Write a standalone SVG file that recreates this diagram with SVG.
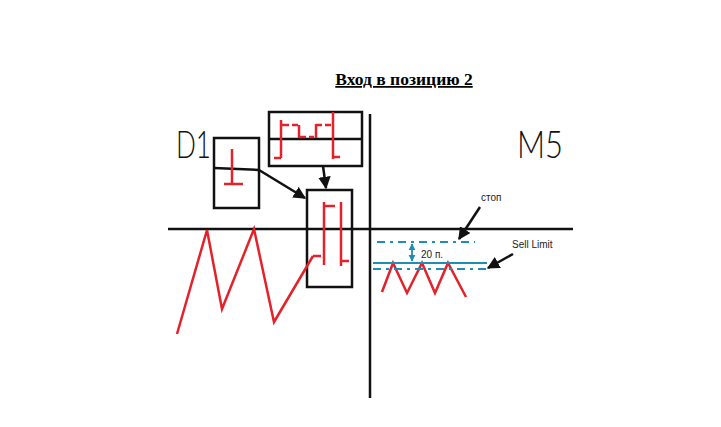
<svg xmlns="http://www.w3.org/2000/svg" width="721" height="427" viewBox="0 0 721 427">
<defs>
<marker id="ab" viewBox="0 0 10 10" refX="9" refY="5" markerWidth="5" markerHeight="5" orient="auto-start-reverse"><path d="M0,0 L10,5 L0,10 z" fill="#111"/></marker>
<marker id="at" viewBox="0 0 10 10" refX="9" refY="5" markerWidth="4" markerHeight="4" orient="auto-start-reverse"><path d="M0,0 L10,5 L0,10 z" fill="#1f8db4"/></marker>
</defs>
<style>
.k{fill:none;stroke:#111;stroke-width:2.5}
.r{fill:none;stroke:#e3222b;stroke-width:2.5;stroke-linejoin:miter}
.t{fill:none;stroke:#1f8db4;stroke-width:2.2}
.d{fill:none;stroke:#1f8db4;stroke-width:2;stroke-dasharray:8,5,3,5}
.hand{font-family:Lato,"Open Sans","Liberation Sans",Arial,sans-serif;font-weight:300;fill:#111}
.lbl{font-family:"Liberation Sans",Arial,sans-serif;fill:#222;font-size:10px}
</style>
<rect width="721" height="427" fill="#fff"/>
<text x="404" y="85" text-anchor="middle" font-family="Liberation Serif,Times New Roman,serif" font-weight="bold" font-size="17.5" text-decoration="underline" fill="#000">Вход в позицию 2</text>

<g id="axes">
<line class="k" x1="370" y1="114" x2="370" y2="398"/>
<line class="k" x1="168" y1="229" x2="573" y2="229"/>
</g>

<g id="label-d1"><text class="hand" x="176" y="158" font-size="38" textLength="35" lengthAdjust="spacingAndGlyphs">D1</text></g>
<g id="label-m5"><text class="hand" x="517" y="158" font-size="38" textLength="46" lengthAdjust="spacingAndGlyphs">M5</text></g>

<g id="box-d1">
<rect class="k" x="214" y="138" width="45" height="70"/>
<line class="k" x1="214" y1="168" x2="259" y2="170"/>
<path class="r" d="M232,149 V184 M224,184 H243"/>
</g>

<g id="box-top">
<rect class="k" x="269" y="112" width="93" height="54"/>
<line class="k" x1="269" y1="139" x2="362" y2="139"/>
<path class="r" d="M281,120 V158 M274,158 H281 M281,125 H289 M292,125 H298 M299,125 V138 M299,137 H306 M309,137 H314 M316,124 V138 M316,125 H322 M325,125 H331 M333,112 V159 M333,157 H340"/>
</g>

<g id="box-main">
<rect class="k" x="307" y="190" width="45" height="97"/>
<path class="r" d="M324,202 V265 M324,206 H335 M313,256 H321 M341,202 V266 M341,261 H349"/>
</g>

<g id="price-d1">
<polyline class="r" points="177,334 207,230 222,309 254,229 274,322 313,256"/>
</g>

<g id="price-m5">
<polyline class="r" points="382,292 393,263 407,293 422,263 435,293 448,263 466,297"/>
<line class="t" x1="373" y1="263" x2="487" y2="263"/>
<line class="d" x1="377" y1="242" x2="475" y2="242"/>
<line class="d" x1="373" y1="269" x2="490" y2="269"/>
<line x1="412" y1="244" x2="412" y2="261" stroke="#1f8db4" stroke-width="1.8" marker-start="url(#at)" marker-end="url(#at)"/>
<text class="lbl" x="421" y="258">20 п.</text>
<text class="lbl" x="481" y="201" font-size="12">стоп</text>
<text class="lbl" x="512" y="248">Sell Limit</text>
</g>

<g id="connectors">
<line class="k" x1="259" y1="170" x2="305" y2="198" stroke-width="2" marker-end="url(#ab)"/>
<line class="k" x1="323" y1="166" x2="326" y2="188" stroke-width="2" marker-end="url(#ab)"/>
<line class="k" x1="480" y1="207" x2="459" y2="239" stroke-width="2" marker-end="url(#ab)"/>
<line class="k" x1="513" y1="254" x2="488" y2="268" stroke-width="2" marker-end="url(#ab)"/>
</g>
</svg>
